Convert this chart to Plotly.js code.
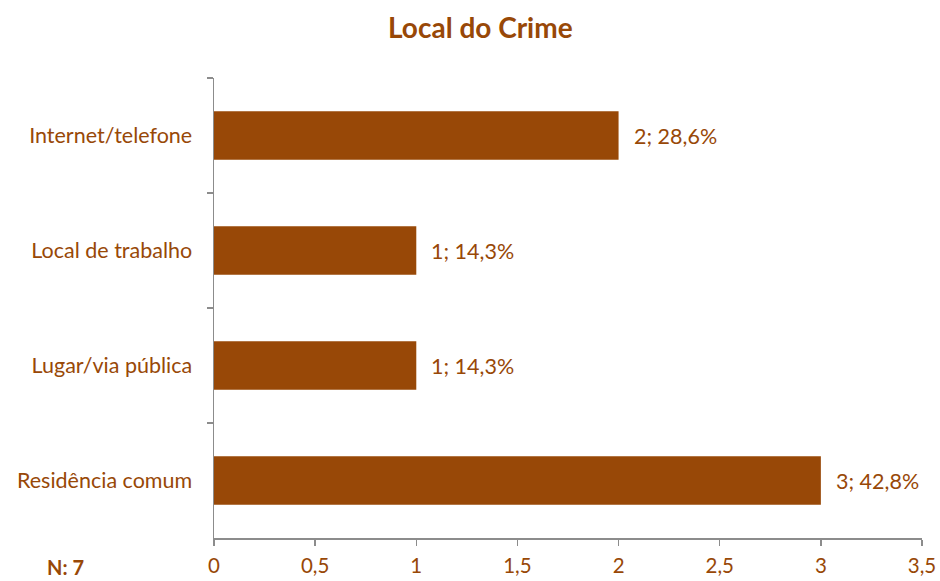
<!DOCTYPE html>
<html>
<head>
<meta charset="utf-8">
<script src="https://cdn.plot.ly/plotly-3.0.1.min.js"></script>
<style>html,body{margin:0;padding:0;background:#fff}#chart{width:940px;height:581px}</style>
</head>
<body>
<div id="chart"></div>
<script>
const categories = ["Internet/telefone", "Local de trabalho", "Lugar/via pública", "Residência comum"];
const counts = [2, 1, 1, 3];
const percents = ["28,6%", "14,3%", "14,3%", "42,8%"];
const xTickVals = [0, 0.5, 1, 1.5, 2, 2.5, 3, 3.5];
const xTickText = ["0", "0,5", "1", "1,5", "2", "2,5", "3", "3,5"];
const totalN = 7;

const brown = "#984807";
const font = "Lato, 'Open Sans', sans-serif";

const labels = counts.map((c, i) => c + "; " + percents[i]);

const trace = {
  type: "bar",
  orientation: "h",
  x: counts,
  y: categories,
  marker: {color: brown},
  hoverinfo: "skip"
};

const labelAnnotations = categories.map((cat, i) => ({
  x: counts[i], y: cat, xref: "x", yref: "y",
  text: labels[i], showarrow: false, xanchor: "left", yanchor: "middle", xshift: 13,
  font: {family: font, size: 21.5, color: brown}
}));

const layout = {
  width: 940, height: 581,
  margin: {l: 214, r: 18, t: 78, b: 43},
  paper_bgcolor: "#fff", plot_bgcolor: "#fff",
  bargap: 0.58,
  showlegend: false,
  title: {text: "<b>Local do Crime</b>", x: 0.511, xanchor: "center", y: 0.952, yanchor: "middle",
          font: {family: font, size: 28, color: brown}},
  xaxis: {
    range: [0, 3.5], tickvals: xTickVals, ticktext: xTickText,
    showgrid: false, zeroline: false, showline: true, linecolor: "#8c8c8c", linewidth: 1.5,
    ticks: "outside", ticklen: 6, tickcolor: "#8c8c8c", tickwidth: 1.5,
    tickfont: {family: font, size: 20.5, color: brown}, ticklabelstandoff: 3
  },
  yaxis: {
    type: "category", autorange: "reversed",
    showgrid: false, zeroline: false, showline: true, linecolor: "#8c8c8c", linewidth: 1.5,
    ticks: "outside", tickson: "boundaries", ticklen: 6, tickcolor: "#8c8c8c", tickwidth: 1.5,
    tickfont: {family: font, size: 21.5, color: brown}, ticklabelstandoff: 16
  },
  annotations: labelAnnotations.concat([{
    text: "<b>N: " + totalN + "</b>", xref: "paper", yref: "paper", x: -0.21, y: -0.062,
    xanchor: "center", yanchor: "middle", showarrow: false,
    font: {family: font, size: 20, color: brown}
  }])
};

Plotly.newPlot("chart", [trace], layout, {displayModeBar: false, staticPlot: true});
</script>
</body>
</html>
